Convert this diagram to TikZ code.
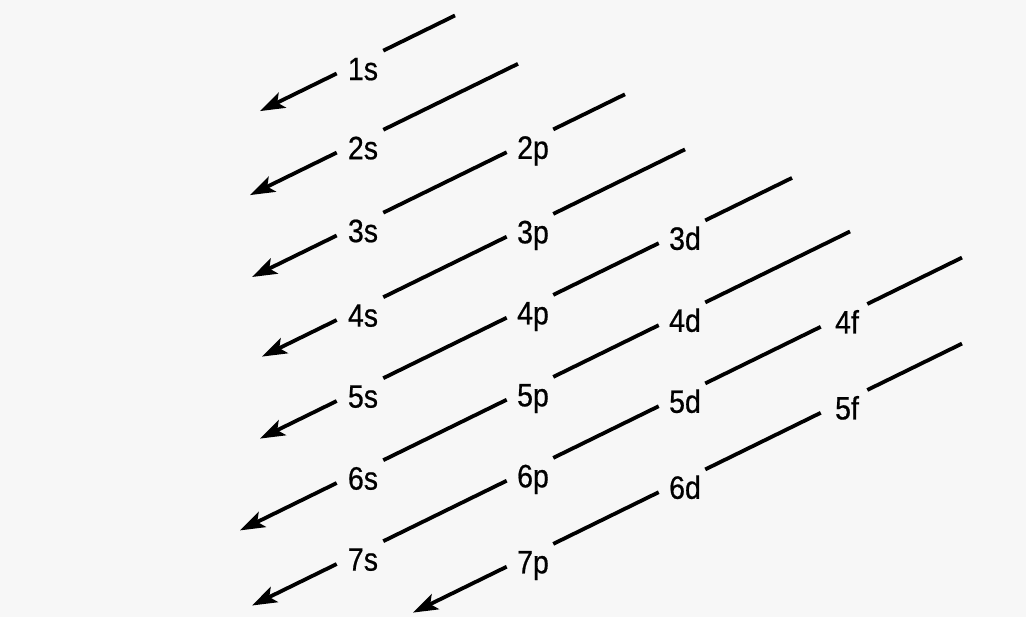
\documentclass[tikz,border=0pt]{standalone}
\usepackage{fontspec}
\setmainfont{Liberation Sans}[FakeStretch=0.88, FakeBold=0.6]
\usetikzlibrary{arrows.meta}
\tikzset{
  orb/.style={minimum width=1.15cm, inner xsep=0pt, inner ysep=0pt,
    text height=0.9cm, text depth=0pt,
    font=\fontsize{23pt}{26pt}\selectfont,
    execute at begin node={\hspace*{0.15cm}}},
  lvl/.style={line width=2.7pt}
}
\begin{document}
\begin{tikzpicture}[x=0.025cm, y=-0.025cm,
  >={Stealth[length=0.62cm, width=0.42cm, inset=0.14cm]}]
\fill[black!3] (0,0) rectangle (1026,617);
\useasboundingbox (0,0) rectangle (1026,617);

\node[orb] (o1s) at (360,62.1) {1s};
\node[orb] (o2s) at (360,141.2) {2s};
\node[orb] (o3s) at (360,224.1) {3s};
\node[orb] (o4s) at (360,308.6) {4s};
\node[orb] (o5s) at (360,389.6) {5s};
\node[orb] (o6s) at (360,471.6) {6s};
\node[orb] (o7s) at (360,552.6) {7s};
\node[orb] (o2p) at (530,140.8) {2p};
\node[orb] (o3p) at (530,225.3) {3p};
\node[orb] (o4p) at (530,306.3) {4p};
\node[orb] (o5p) at (530,388.3) {5p};
\node[orb] (o6p) at (530,469.3) {6p};
\node[orb] (o7p) at (530,555.3) {7p};
\node[orb] (o3d) at (682,231.8) {3d};
\node[orb] (o4d) at (682,313.8) {4d};
\node[orb] (o5d) at (682,394.8) {5d};
\node[orb] (o6d) at (682,480.8) {6d};
\node[orb] (o4f) at (844,315.4) {4f};
\node[orb] (o5f) at (844,401.4) {5f};

\coordinate (t1) at (455,15.5);
\coordinate (t2) at (518,63.8);
\coordinate (t3) at (625,94.3);
\coordinate (t4) at (685,149.4);
\coordinate (t5) at (792,177.9);
\coordinate (t6) at (850,231.5);
\coordinate (t7) at (962,257.6);
\coordinate (t8) at (962,343.6);
\coordinate (e1) at (260,111.1);
\coordinate (e2) at (250,195.1);
\coordinate (e3) at (252,277.0);
\coordinate (e4) at (262,356.6);
\coordinate (e5) at (260,438.6);
\coordinate (e6) at (240,530.4);
\coordinate (e7) at (252,605.5);
\coordinate (e8) at (413,612.6);

\draw[lvl] (t1) -- (o1s);
\draw[lvl,->] (o1s) -- (e1);

\draw[lvl] (t2) -- (o2s);
\draw[lvl,->] (o2s) -- (e2);

\draw[lvl] (t3) -- (o2p);
\draw[lvl] (o2p) -- (o3s);
\draw[lvl,->] (o3s) -- (e3);

\draw[lvl] (t4) -- (o3p);
\draw[lvl] (o3p) -- (o4s);
\draw[lvl,->] (o4s) -- (e4);

\draw[lvl] (t5) -- (o3d);
\draw[lvl] (o3d) -- (o4p);
\draw[lvl] (o4p) -- (o5s);
\draw[lvl,->] (o5s) -- (e5);

\draw[lvl] (t6) -- (o4d);
\draw[lvl] (o4d) -- (o5p);
\draw[lvl] (o5p) -- (o6s);
\draw[lvl,->] (o6s) -- (e6);

\draw[lvl] (t7) -- (o4f);
\draw[lvl] (o4f) -- (o5d);
\draw[lvl] (o5d) -- (o6p);
\draw[lvl] (o6p) -- (o7s);
\draw[lvl,->] (o7s) -- (e7);

\draw[lvl] (t8) -- (o5f);
\draw[lvl] (o5f) -- (o6d);
\draw[lvl] (o6d) -- (o7p);
\draw[lvl,->] (o7p) -- (e8);
\end{tikzpicture}
\end{document}
